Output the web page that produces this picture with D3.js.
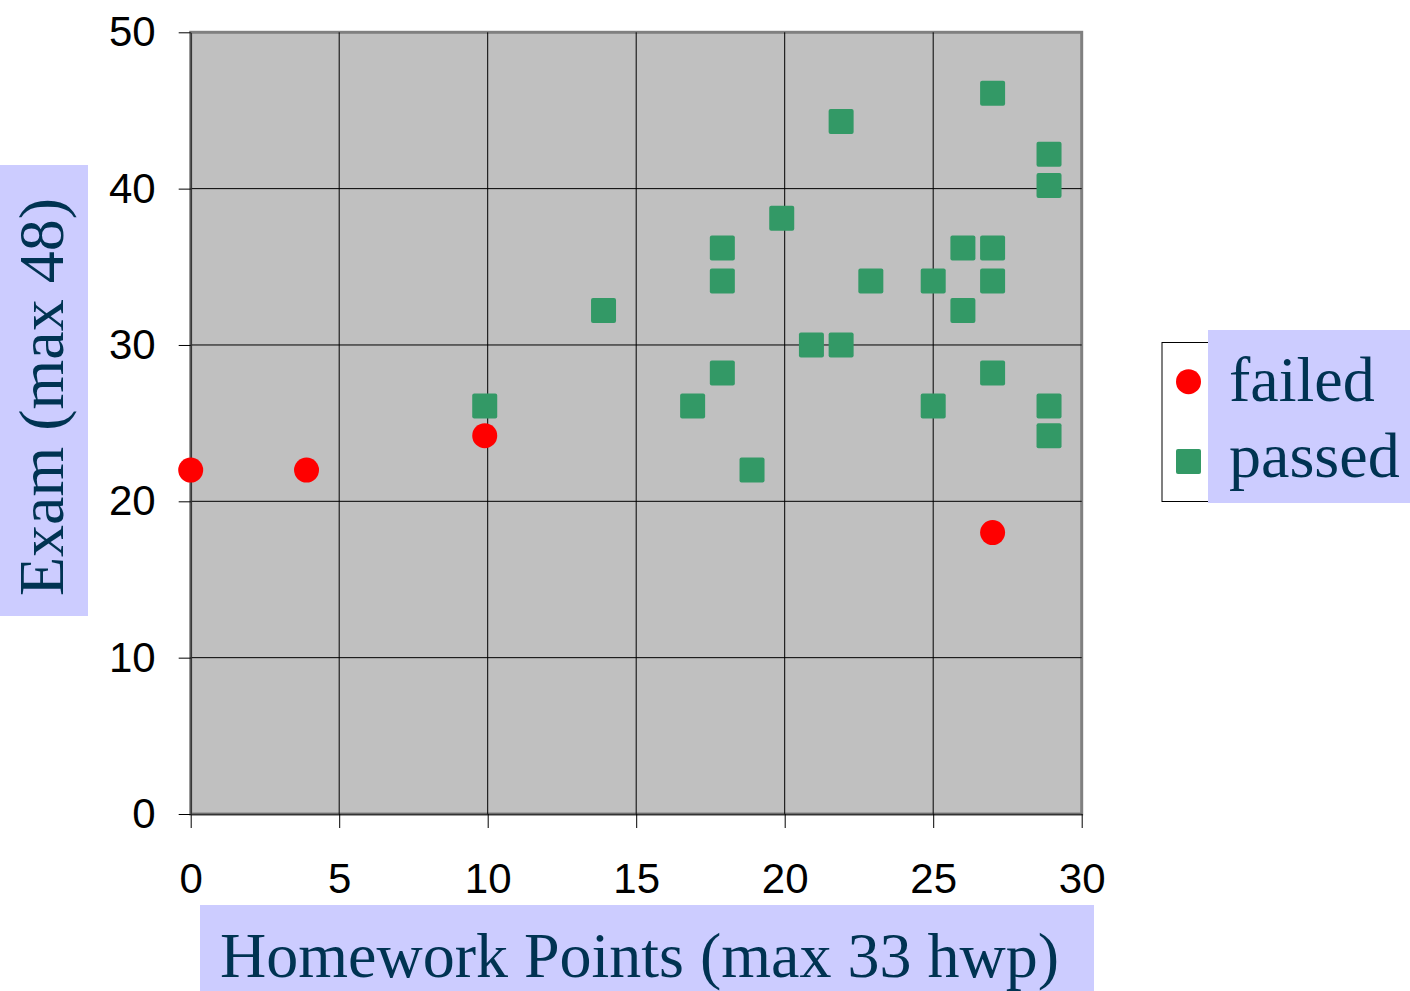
<!doctype html>
<html>
<head>
<meta charset="utf-8">
<style>
  body { margin: 0; background: #fff; }
  .tick text { font-family: "Liberation Sans", Arial, sans-serif; font-size: 42px; fill: #000; }
  .title { font-family: "Liberation Serif", "Times New Roman", serif; font-size: 64px; fill: #003352; }
</style>
<script src="https://d3js.org/d3.v7.min.js"></script>
</head>
<body>
<svg width="1410" height="991"></svg>
<script>
// values
var failedX = [0, 3.9, 9.9, 27];
var failedY = [22, 22, 24.2, 18];
var passedX = [9.9, 13.9, 16.9, 17.9, 17.9, 17.9, 18.9, 19.9, 20.9, 21.9, 21.9, 22.9,
               25, 25, 26, 26, 27, 27, 27, 27, 28.9, 28.9, 28.9, 28.9];
var passedY = [26.1, 32.2, 26.1, 36.2, 34.1, 28.2, 22, 38.1, 30, 44.3, 30, 34.1,
               34.1, 26.1, 36.2, 32.2, 46.1, 36.2, 34.1, 28.2, 42.2, 40.2, 26.1, 24.2];
var xTicks = [0, 5, 10, 15, 20, 25, 30];
var yTicks = [0, 10, 20, 30, 40, 50];
var seriesNames = ["failed", "passed"];

var svg = d3.select("svg");

var x = d3.scaleLinear().domain([0, 30]).range([190.7, 1081.7]);
var y = d3.scaleLinear().domain([0, 50]).range([814, 32.3]);

// plot area
svg.append("rect")
   .attr("x", x(0)).attr("y", y(50))
   .attr("width", x(30) - x(0)).attr("height", y(0) - y(50))
   .attr("fill", "#c0c0c0")
   .attr("stroke", "#808080")
   .attr("stroke-width", 3);

// gridlines
svg.append("g").selectAll("line")
   .data(xTicks.slice(1, -1))
   .enter().append("line")
   .attr("x1", function(d) { return x(d); }).attr("x2", function(d) { return x(d); })
   .attr("y1", y(50)).attr("y2", y(0))
   .attr("stroke", "#000").attr("stroke-width", 1);

svg.append("g").selectAll("line")
   .data(yTicks.slice(1, -1))
   .enter().append("line")
   .attr("x1", x(0)).attr("x2", x(30))
   .attr("y1", function(d) { return y(d); }).attr("y2", function(d) { return y(d); })
   .attr("stroke", "#000").attr("stroke-width", 1);

// axes
var gx = svg.append("g")
   .attr("transform", "translate(0," + y(0) + ")")
   .call(d3.axisBottom(x).tickValues(xTicks).tickSize(14).tickSizeOuter(0).tickPadding(35));
gx.select(".domain").attr("stroke", "#333").attr("stroke-width", 1.5);

var gy = svg.append("g")
   .attr("transform", "translate(" + x(0) + ",0)")
   .call(d3.axisLeft(y).tickValues(yTicks).tickSize(12).tickSizeOuter(0).tickPadding(23));
gy.select(".domain").attr("stroke", "#333").attr("stroke-width", 1.5);

svg.selectAll(".tick text").attr("font-family", null).attr("font-size", null);

// points
svg.append("g").selectAll("rect")
   .data(d3.range(passedX.length))
   .enter().append("rect")
   .attr("x", function(i) { return x(passedX[i]) - 12.5; })
   .attr("y", function(i) { return y(passedY[i]) - 12.5; })
   .attr("width", 25).attr("height", 25).attr("rx", 2)
   .attr("fill", "#339966");

svg.append("g").selectAll("circle")
   .data(d3.range(failedX.length))
   .enter().append("circle")
   .attr("cx", function(i) { return x(failedX[i]); })
   .attr("cy", function(i) { return y(failedY[i]); })
   .attr("r", 12.5)
   .attr("fill", "#ff0000");

// axis titles
svg.append("rect")
   .attr("x", 200).attr("y", 905).attr("width", 894).attr("height", 90)
   .attr("fill", "#ccccff");
svg.append("text")
   .attr("class", "title")
   .attr("x", 220).attr("y", 977)
   .text("Homework Points (max 33 hwp)");

svg.append("rect")
   .attr("x", 0).attr("y", 165).attr("width", 88).attr("height", 451)
   .attr("fill", "#ccccff");
svg.append("text")
   .attr("class", "title")
   .attr("transform", "translate(63,596) rotate(-90)")
   .text("Exam (max 48)");

// legend
svg.append("rect")
   .attr("x", 1162).attr("y", 342.5).attr("width", 260).attr("height", 159)
   .attr("fill", "#fff").attr("stroke", "#000").attr("stroke-width", 1);
svg.append("rect")
   .attr("x", 1208).attr("y", 330).attr("width", 210).attr("height", 173)
   .attr("fill", "#ccccff");

svg.append("circle")
   .attr("cx", 1188.5).attr("cy", 381.7).attr("r", 12.5)
   .attr("fill", "#ff0000");
svg.append("rect")
   .attr("x", 1176).attr("y", 449).attr("width", 25).attr("height", 25).attr("rx", 2)
   .attr("fill", "#339966");

svg.append("g").selectAll("text")
   .data(seriesNames)
   .enter().append("text")
   .attr("class", "title")
   .attr("x", 1229)
   .attr("y", function(d, i) { return 401 + i * 76; })
   .text(function(d) { return d; });
</script>
</body>
</html>
